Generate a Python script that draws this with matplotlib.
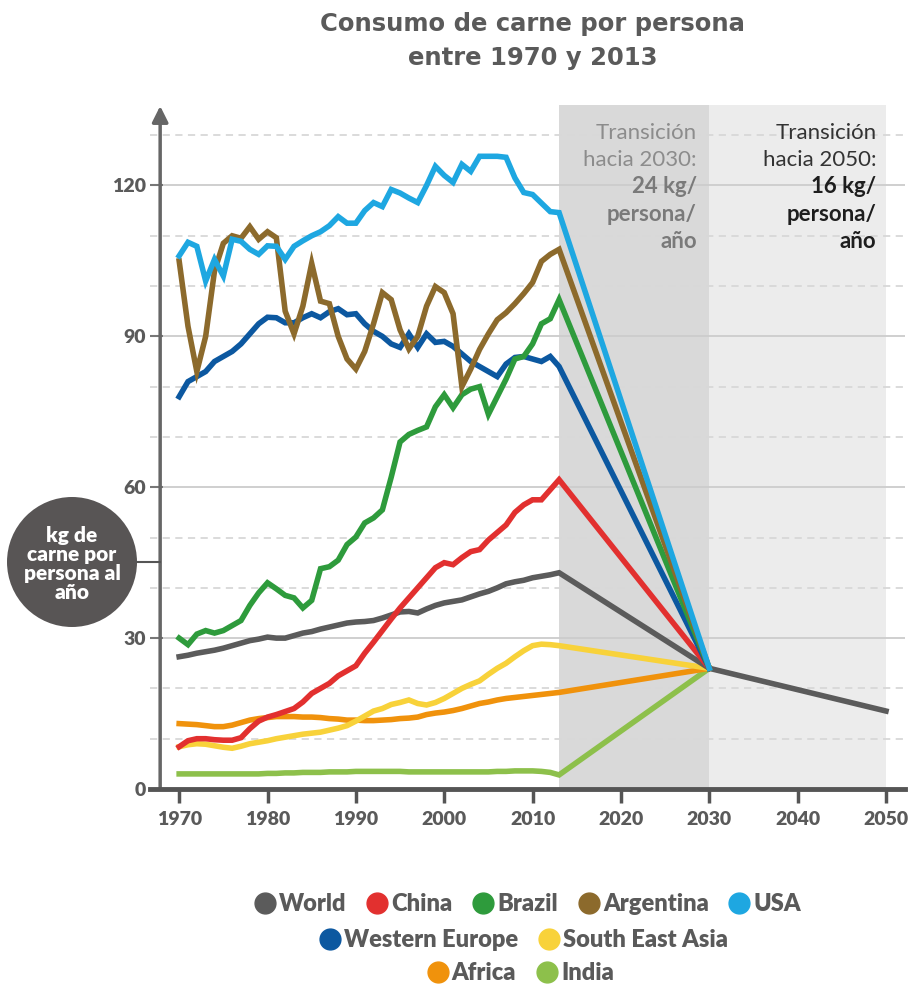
import numpy as np
import matplotlib
matplotlib.use("Agg")
import matplotlib.pyplot as plt
from matplotlib.patches import Ellipse
from matplotlib.lines import Line2D

# data (kg of meat per person per year)
years = list(range(1970, 2014))

world = [26.3, 26.6, 27.0, 27.3, 27.6, 28.0, 28.5, 29.0, 29.5, 29.8,
         30.2, 30.0, 30.0, 30.5, 31.0, 31.3, 31.8, 32.2, 32.6, 33.0,
         33.2, 33.3, 33.5, 34.0, 34.6, 35.2, 35.3, 35.0, 35.8, 36.5,
         37.0, 37.3, 37.6, 38.2, 38.8, 39.3, 40.0, 40.8, 41.2, 41.5,
         42.0, 42.3, 42.6, 43.0]
china = [8.4, 9.6, 10.0, 10.0, 9.8, 9.7, 9.7, 10.2, 12.0, 13.5,
         14.3, 14.8, 15.4, 16.0, 17.3, 19.0, 20.0, 21.0, 22.5, 23.5,
         24.5, 27.0, 29.2, 31.5, 33.8, 36.0, 38.0, 40.0, 42.0, 44.0,
         45.0, 44.6, 46.0, 47.2, 47.6, 49.5, 51.0, 52.5, 55.0, 56.5,
         57.5, 57.5, 59.5, 61.5]
brazil = [30.0, 28.7, 30.8, 31.5, 31.0, 31.5, 32.5, 33.5, 36.5, 39.0,
          41.0, 39.8, 38.5, 38.0, 36.0, 37.5, 43.8, 44.2, 45.5, 48.6,
          50.1, 52.9, 53.9, 55.5, 62.0, 69.0, 70.5, 71.3, 72.0, 76.0,
          78.4, 75.8, 78.4, 79.5, 80.0, 74.5, 78.0, 81.5, 85.5, 86.0,
          88.5, 92.5, 93.5, 97.3]
argentina = [105.0, 92.0, 83.0, 90.0, 103.0, 108.5, 110.0, 109.5, 111.8, 109.3,
             110.8, 109.6, 95.0, 90.5, 96.0, 104.5, 97.0, 96.5, 90.0, 85.5,
             83.5, 87.0, 92.5, 98.7, 97.3, 91.3, 87.5, 90.0, 96.0, 99.9,
             98.7, 94.5, 80.0, 83.5, 87.4, 90.5, 93.3, 94.7, 96.5, 98.5,
             100.7, 104.9, 106.3, 107.3]
usa = [106.0, 108.7, 107.9, 101.0, 105.3, 102.0, 109.3, 108.9, 107.3, 106.3,
       108.0, 107.9, 105.3, 107.9, 109.0, 110.0, 110.8, 112.0, 113.8, 112.5,
       112.5, 115.0, 116.6, 115.8, 119.2, 118.5, 117.5, 116.6, 120.0, 123.8,
       122.0, 120.6, 124.2, 122.8, 125.8, 125.8, 125.8, 125.6, 121.5, 118.6,
       118.2, 116.5, 114.8, 114.6]
weurope = [78.0, 81.0, 82.0, 83.0, 85.0, 86.0, 87.0, 88.5, 90.5, 92.5,
           93.8, 93.7, 92.7, 92.7, 93.7, 94.5, 93.7, 94.9, 95.5, 94.3,
           94.5, 92.5, 91.0, 90.0, 88.5, 87.8, 90.5, 87.8, 90.5, 88.8,
           89.0, 88.0, 86.5, 85.0, 84.0, 83.0, 82.0, 84.5, 85.8, 86.0,
           85.5, 85.0, 86.0, 84.0]
sea = [8.4, 8.8, 9.0, 8.9, 8.6, 8.3, 8.1, 8.5, 9.0, 9.3,
       9.6, 10.0, 10.3, 10.6, 10.9, 11.1, 11.3, 11.7, 12.1, 12.6,
       13.5, 14.5, 15.5, 16.0, 16.8, 17.2, 17.7, 17.0, 16.7, 17.2,
       18.0, 19.0, 20.0, 20.8, 21.5, 22.8, 24.0, 25.0, 26.3, 27.5,
       28.5, 28.8, 28.7, 28.5]
africa = [13.0, 12.9, 12.8, 12.6, 12.4, 12.4, 12.7, 13.2, 13.7, 14.0,
          14.2, 14.4, 14.4, 14.4, 14.3, 14.3, 14.2, 14.0, 13.9, 13.7,
          13.7, 13.6, 13.6, 13.7, 13.8, 14.0, 14.1, 14.3, 14.8, 15.1,
          15.3, 15.6, 16.0, 16.5, 17.0, 17.3, 17.7, 18.0, 18.2, 18.4,
          18.6, 18.8, 19.0, 19.2]
india = [3.0, 3.0, 3.0, 3.0, 3.0, 3.0, 3.0, 3.0, 3.0, 3.0,
         3.1, 3.1, 3.2, 3.2, 3.3, 3.3, 3.3, 3.4, 3.4, 3.4,
         3.5, 3.5, 3.5, 3.5, 3.5, 3.5, 3.4, 3.4, 3.4, 3.4,
         3.4, 3.4, 3.4, 3.4, 3.4, 3.4, 3.5, 3.5, 3.6, 3.6,
         3.6, 3.5, 3.3, 2.8]

# transition targets
target_2030 = 24
world_2050 = 15.5

names = ["World", "China", "Brazil", "Argentina", "USA",
         "Western Europe", "South East Asia", "Africa", "India"]
colors = ["#5b5b5b", "#e2302f", "#2e9b3c", "#8c6a2c", "#1ea7e1",
          "#0c58a0", "#f8d23a", "#f0920c", "#8dc04b"]
series = [world, china, brazil, argentina, usa, weurope, sea, africa, india]

# drawing order (first = bottom)
order = [8, 7, 6, 0, 1, 5, 2, 3, 4]

cond = ["Lato", "DejaVu Sans"]
grey_txt = "#5a5a5a"

fig = plt.figure(figsize=(9.12, 9.88), dpi=100)
ax = fig.add_axes([150 / 912, 1 - 789 / 988, 755 / 912, 684 / 988])
ax.set_xlim(1966.7, 2052.15)
ax.set_ylim(0, 136)

ax.axvspan(2013, 2030, color="#d9d9d9", lw=0, zorder=0)
ax.axvspan(2030, 2050, color="#ececec", lw=0, zorder=0)

for v in range(10, 140, 10):
    if v % 30 == 0:
        ax.axhline(v, color="#cccccc", lw=1.3, zorder=1)
    else:
        ax.axhline(v, color="#d8d8d8", lw=1.3, ls=(0, (4, 3)), zorder=1)

for i in order:
    xs = years + [2030]
    ys = series[i] + [target_2030]
    if names[i] == "World":
        xs = xs + [2050]
        ys = ys + [world_2050]
    ax.plot(xs, ys, color=colors[i], lw=4.0, zorder=3 + order.index(i),
            solid_joinstyle="miter")

for s in ["top", "right", "left"]:
    ax.spines[s].set_visible(False)
ax.spines["bottom"].set_color("#555555")
ax.spines["bottom"].set_linewidth(3.5)
ax.spines["bottom"].set_zorder(20)

ax.set_xticks(range(1970, 2051, 10))
ax.tick_params(axis="x", direction="out", length=10, width=2.5, color="#555555",
               pad=6, labelcolor=grey_txt)
ax.set_yticks([0, 30, 60, 90, 120])
ax.tick_params(axis="y", direction="in", length=9, width=1.5, color="#777777",
               pad=3, labelcolor=grey_txt)
for lab in ax.get_xticklabels() + ax.get_yticklabels():
    lab.set_family(cond)
    lab.set_fontweight("heavy")
    lab.set_fontsize(14)

# vertical axis with arrow
ax.annotate("", xy=(1967.85, 135.8), xytext=(1967.85, 0),
            arrowprops=dict(arrowstyle="-|>", color="#666666", lw=2.5,
                            mutation_scale=24, shrinkA=0, shrinkB=0),
            annotation_clip=False, zorder=15)

# transition notes
note_y = [130.5, 125.1, 119.8, 114.2, 108.8]
notes_2030 = ["Transición", "hacia 2030:", "24 kg/", "persona/", "año"]
notes_2050 = ["Transición", "hacia 2050:", "16 kg/", "persona/", "año"]
for k in range(5):
    bold = k >= 2
    ax.text(2028.6, note_y[k], notes_2030[k], ha="right", va="center",
            family=cond, fontsize=16, fontweight="bold" if bold else "normal",
            color="#7a7a7a" if bold else "#8c8c8c", zorder=25)
    ax.text(2048.9, note_y[k], notes_2050[k], ha="right", va="center",
            family=cond, fontsize=16, fontweight="bold" if bold else "normal",
            color="#1e1e1e" if bold else "#333333", zorder=25)

# title
fig.text(0.584, 1 - 41 / 988, "Consumo de carne por persona\nentre 1970 y 2013",
         ha="center", va="center", fontsize=17.5, fontweight="bold",
         family="DejaVu Sans", color=grey_txt, linespacing=1.5)

# y label bubble
fig.add_artist(Line2D([137 / 912, 160 / 912], [1 - 562 / 988, 1 - 562 / 988],
                      color="#555555", lw=1.5))
fig.add_artist(Ellipse((72 / 912, 1 - 562 / 988), 130 / 912, 130 / 988,
                       color="#585555", lw=0))
fig.text(72 / 912, 1 - 564 / 988, "kg de\ncarne por\npersona al\naño",
         ha="center", va="center", color="white", fontsize=15,
         fontweight="heavy", family=cond, linespacing=1.0)

# legend rows
def handle(i):
    return Line2D([], [], ls="none", marker="o", markersize=15,
                  markerfacecolor=colors[i], markeredgecolor=colors[i])

rows = [([0, 1, 2, 3, 4], 1 - 904 / 988, 0.578),
        ([5, 6], 1 - 940 / 988, 0.574),
        ([7, 8], 1 - 973 / 988, 0.570)]
for idx, yy, xx in rows:
    leg = fig.legend([handle(i) for i in idx], [names[i] for i in idx],
                     loc="center", bbox_to_anchor=(xx, yy), ncol=len(idx),
                     frameon=False, handletextpad=0.1, columnspacing=0.8,
                     handlelength=1.0, borderaxespad=0,
                     prop=dict(family=cond, weight="heavy", size=17))
    for t in leg.get_texts():
        t.set_color(grey_txt)

fig.savefig("out.png", dpi=100)
